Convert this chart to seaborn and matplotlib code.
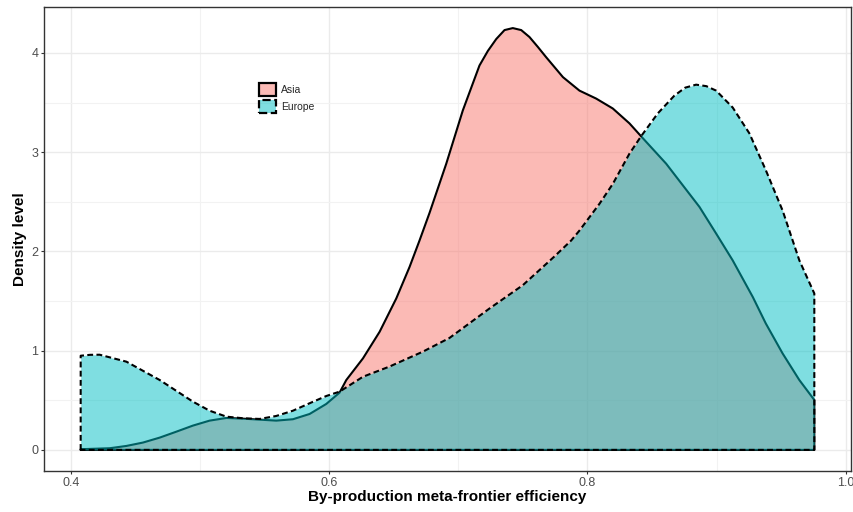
import matplotlib
matplotlib.use("Agg")
import matplotlib.pyplot as plt
from matplotlib.patches import Patch
from matplotlib.ticker import MultipleLocator
from matplotlib.colors import to_rgba
import pandas as pd
import seaborn as sns

# ---- data -------------------------------------------------------------
regions = ["Asia", "Europe"]
fill_colors = ["#F8766D", "#00BFC4"]
line_styles = ["-", (0, (2.8, 1.6))]

asia_eff = [0.4077, 0.4302, 0.4431, 0.4559, 0.4689, 0.4818, 0.4946, 0.5075,
            0.5205, 0.5333, 0.5462, 0.5591, 0.5720, 0.5849, 0.5978, 0.6081,
            0.6133, 0.6262, 0.6391, 0.6520, 0.6623, 0.6700, 0.6778, 0.6907,
            0.7035, 0.7164, 0.7229, 0.7294, 0.7358, 0.7422, 0.7487, 0.7551,
            0.7616, 0.7680, 0.7810, 0.7938, 0.8067, 0.8196, 0.8325, 0.8415,
            0.8609, 0.8867, 0.8996, 0.9124, 0.9280, 0.9380, 0.9510, 0.9640,
            0.9756]
asia_density = [0.007, 0.017, 0.040, 0.074, 0.124, 0.184, 0.245, 0.295,
                0.322, 0.315, 0.305, 0.295, 0.309, 0.362, 0.463, 0.577,
                0.704, 0.922, 1.190, 1.526, 1.844, 2.110, 2.390, 2.884,
                3.420, 3.873, 4.020, 4.140, 4.230, 4.250, 4.230, 4.160,
                4.060, 3.957, 3.756, 3.620, 3.540, 3.440, 3.290, 3.160,
                2.884, 2.448, 2.180, 1.910, 1.540, 1.275, 0.973, 0.704,
                0.503]

europe_eff = [0.4077, 0.4150, 0.4224, 0.4431, 0.4689, 0.4946, 0.5075, 0.5205,
              0.5333, 0.5462, 0.5591, 0.5720, 0.5849, 0.5978, 0.6081, 0.6262,
              0.6468, 0.6726, 0.6932, 0.7242, 0.7500, 0.7745, 0.7874, 0.7938,
              0.8093, 0.8196, 0.8325, 0.8415, 0.8544, 0.8673, 0.8757, 0.8841,
              0.8920, 0.8996, 0.9124, 0.9253, 0.9380, 0.9511, 0.9640, 0.9756]
europe_density = [0.949, 0.958, 0.959, 0.889, 0.704, 0.486, 0.395, 0.335,
                  0.319, 0.312, 0.342, 0.395, 0.470, 0.543, 0.587, 0.737,
                  0.840, 0.990, 1.128, 1.425, 1.660, 1.950, 2.110, 2.210,
                  2.480, 2.680, 2.985, 3.160, 3.390, 3.570, 3.650, 3.680,
                  3.665, 3.620, 3.450, 3.190, 2.820, 2.410, 1.910, 1.576]

x_ticks = [0.4, 0.6, 0.8, 1.0]
x_tick_labels = ["0.4", "0.6", "0.8", "1.0"]
y_ticks = [0, 1, 2, 3, 4]
y_tick_labels = ["0", "1", "2", "3", "4"]

x_title = "By-production meta-frontier efficiency"
y_title = "Density level"

series = {
    "Asia": (asia_eff, asia_density),
    "Europe": (europe_eff, europe_density),
}

# closed outline of each density polygon (baseline, sides and curve)
rows = []
for region in regions:
    xs, ds = series[region]
    path_x = [xs[0]] + list(xs) + [xs[-1], xs[0]]
    path_d = [0.0] + list(ds) + [0.0, 0.0]
    for i, (px, dv) in enumerate(zip(path_x, path_d)):
        rows.append({"region": region, "step": i, "efficiency": px, "density": dv})
outline = pd.DataFrame(rows)

# ---- style ------------------------------------------------------------
sns.set_theme(style="whitegrid")
plt.rcParams["font.family"] = ["Liberation Sans", "DejaVu Sans"]

fig = plt.figure(figsize=(8.54, 5.12), dpi=100)
W, H = 854, 512
left, right, top, bottom = 44, 851, 7, 471
ax = fig.add_axes([left / W, 1 - bottom / H, (right - left) / W, (bottom - top) / H])
ax.set_facecolor("white")
ax.set_axisbelow(True)

# each region: fill, then its outline, stacked in drawing order
for k, (region, color, ls) in enumerate(zip(regions, fill_colors, line_styles)):
    xs, ds = series[region]
    ax.fill_between(xs, ds, 0, color=color, alpha=0.5, lw=0, zorder=2 + 2 * k)
    sns.lineplot(data=outline[outline["region"] == region], x="efficiency", y="density",
                 sort=False, estimator=None, color="black", linewidth=1.5,
                 linestyle=ls, solid_joinstyle="round", dash_joinstyle="round",
                 ax=ax, zorder=3 + 2 * k, legend=False)

# 5% expansion of the data range on both axes
all_x = asia_eff + europe_eff
xmin, xmax = min(all_x), max(all_x)
ymax = max(asia_density + europe_density)
ax.set_xlim(xmin - 0.05 * (xmax - xmin), xmax + 0.05 * (xmax - xmin))
ax.set_ylim(-0.05 * ymax, ymax * 1.05)

ax.set_xticks(x_ticks)
ax.set_xticklabels(x_tick_labels)
ax.set_yticks(y_ticks)
ax.set_yticklabels(y_tick_labels)
ax.xaxis.set_minor_locator(MultipleLocator(0.1))
ax.yaxis.set_minor_locator(MultipleLocator(0.5))
ax.grid(which="major", color="#EBEBEB", linewidth=1.0)
ax.grid(which="minor", color="#F2F2F2", linewidth=0.8)

ax.tick_params(which="major", direction="out", length=2.5, width=0.8, color="#333333",
               labelsize=9, labelcolor="#4D4D4D", pad=1.5, bottom=True, left=True)
ax.tick_params(which="minor", length=0)
for sp in ax.spines.values():
    sp.set_visible(True)
    sp.set_color("#333333")
    sp.set_linewidth(1.0)

ax.set_xlabel(x_title, fontsize=11, fontweight="bold", color="black")
ax.set_ylabel(y_title, fontsize=11, fontweight="bold", color="black")
ax.xaxis.set_label_coords(0.5, -0.042)
ax.yaxis.set_label_coords(-0.021, 0.5)

handles = [Patch(facecolor=to_rgba(c, 0.5), edgecolor="black", linewidth=1.6, linestyle=ls)
           for c, ls in zip(fill_colors, ["-", "--"])]
ax.legend(handles, regions, loc="upper left",
          bbox_to_anchor=((259 - left) / (right - left), (bottom - 83) / (bottom - top)),
          frameon=False, fontsize=7.5, handlelength=1.6, handleheight=1.6,
          handletextpad=0.5, labelspacing=0.35, borderpad=0, borderaxespad=0)

fig.savefig("out.png", dpi=100)
